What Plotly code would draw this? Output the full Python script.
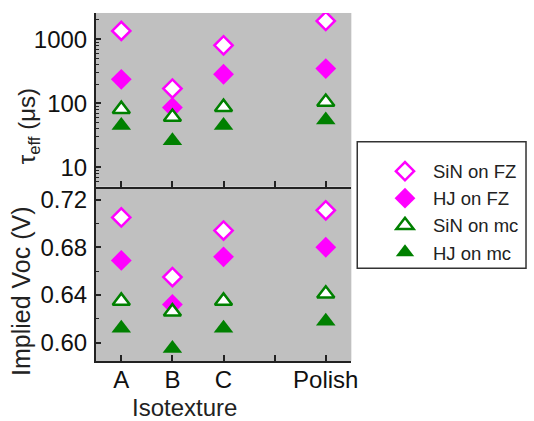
import plotly.graph_objects as go

# Sample groups and their slot on the x axis (slot 4 left empty)
categories = ["A", "B", "C", "Polish"]
slots = [1, 2, 3, 5]
tick_slots = [1, 2, 3, 4, 5]
tick_text = ["A", "B", "C", "", "Polish"]

# Effective lifetime (µs)
tau_sin_fz = [1350, 170, 805, 1930]
tau_hj_fz = [237, 86, 284, 348]
tau_sin_mc = [81, 61, 87, 105]
tau_hj_mc = [45, 26, 45, 55]

# Implied open-circuit voltage (V)
voc_sin_fz = [0.705, 0.655, 0.694, 0.711]
voc_hj_fz = [0.669, 0.632, 0.672, 0.680]
voc_sin_mc = [0.635, 0.626, 0.635, 0.641]
voc_hj_mc = [0.612, 0.595, 0.612, 0.618]

MAGENTA = "#FF00FF"
GREEN = "#008000"
BG = "#C0C0C0"
FONT = "Liberation Sans, Arial, sans-serif"

series = [
    ("SiN on FZ", tau_sin_fz, voc_sin_fz, dict(symbol="diamond", size=14, color="white", line=dict(color=MAGENTA, width=2.5))),
    ("HJ on FZ", tau_hj_fz, voc_hj_fz, dict(symbol="diamond", size=16, color=MAGENTA, line=dict(color=MAGENTA, width=0))),
    ("SiN on mc", tau_sin_mc, voc_sin_mc, dict(symbol="triangle-up", size=15, color="white", line=dict(color=GREEN, width=2.5))),
    ("HJ on mc", tau_hj_mc, voc_hj_mc, dict(symbol="triangle-up", size=17, color=GREEN, line=dict(color=GREEN, width=0))),
]

fig = go.Figure()
for name, tau, voc, mk in series:
    fig.add_trace(go.Scatter(x=slots, y=tau, mode="markers", name=name, marker=mk,
                             xaxis="x", yaxis="y", showlegend=True, text=categories))
    fig.add_trace(go.Scatter(x=slots, y=voc, mode="markers", name=name, marker=mk,
                             xaxis="x2", yaxis="y2", showlegend=False, text=categories))

x_dom = [97 / 534, 356 / 534]
y_split = 1 - 186 / 421

tick_font = dict(family=FONT, size=24, color="#111111")
common_x = dict(range=[0.5, 5.5], tickvals=tick_slots, ticktext=tick_text,
                ticks="inside", ticklen=6, tickcolor="#222", tickwidth=1.5,
                showline=True, linecolor="#222", linewidth=1.5, mirror=False,
                showgrid=False, zeroline=False, domain=x_dom, tickfont=tick_font)

fig.update_layout(
    width=534, height=421,
    margin=dict(l=0, r=0, t=0, b=0),
    paper_bgcolor="white",
    plot_bgcolor=BG,
    xaxis=dict(**common_x, anchor="y", showticklabels=False),
    xaxis2=dict(**common_x, anchor="y2", showticklabels=True, ticklabelstandoff=-4),
    yaxis=dict(type="log", range=[0.70, 3.41], domain=[y_split, 1 - 12 / 421], anchor="x",
               dtick=1, exponentformat="none", ticks="inside", ticklen=6, tickcolor="#222",
               tickwidth=1.5, showline=True, linecolor="#222", linewidth=1.5,
               showgrid=False, zeroline=False, tickfont=tick_font, ticklabelstandoff=2,
               minor=dict(dtick="D1", ticks="inside", ticklen=4, tickcolor="#222",
                          tickwidth=1, showgrid=False)),
    yaxis2=dict(range=[0.5845, 0.7309], domain=[1 - 361 / 421, y_split], anchor="x2",
                dtick=0.04, tick0=0.60, tickformat=".2f", ticks="inside", ticklen=6,
                tickcolor="#222", tickwidth=1.5, showline=True, linecolor="#222",
                linewidth=1.5, showgrid=False, zeroline=False, tickfont=tick_font,
                ticklabelstandoff=2,
                minor=dict(dtick=0.02, tick0=0.60, ticks="inside", ticklen=4,
                           tickcolor="#222", tickwidth=1, showgrid=False)),
    legend=dict(x=382 / 534, y=1 - 152 / 421, xanchor="left", yanchor="top",
                bgcolor="rgba(0,0,0,0)", borderwidth=0,
                font=dict(family=FONT, size=18.5, color="#222"), itemwidth=46,
                tracegroupgap=0),
    showlegend=True,
)

# Legend frame
fig.add_shape(type="rect", xref="paper", yref="paper",
              x0=362 / 534, x1=533 / 534, y0=1 - 268 / 421, y1=1 - 141 / 421,
              line=dict(color="#333", width=1.5), fillcolor="rgba(0,0,0,0)")

# Axis titles
title_font = dict(family=FONT, color="#222")
fig.add_annotation(text="τ<sub>eff</sub> (μs)", xref="paper", yref="paper",
                   x=29 / 534, y=1 - 126 / 421, xanchor="center", yanchor="middle",
                   showarrow=False, textangle=-90, font=dict(size=24, **title_font))
fig.add_annotation(text="Implied Voc (V)", xref="paper", yref="paper",
                   x=22 / 534, y=1 - 291 / 421, xanchor="center", yanchor="middle",
                   showarrow=False, textangle=-90, font=dict(size=25, **title_font))
fig.add_annotation(text="Isotexture", xref="paper", yref="paper",
                   x=187 / 534, y=1 - 407 / 421, xanchor="center", yanchor="middle",
                   showarrow=False, font=dict(size=24, **title_font))

fig.write_html("out.html")
